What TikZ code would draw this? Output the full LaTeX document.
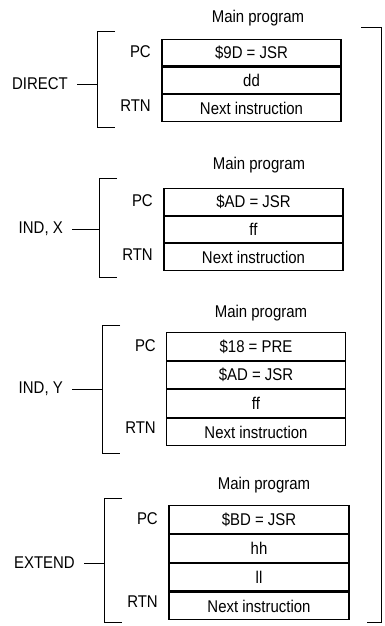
\documentclass[tikz,border=0pt]{standalone}
\usepackage{fontspec}
\setmainfont[FakeStretch=0.88]{Liberation Sans}
\begin{document}
\begin{tikzpicture}[x=1pt,y=-1pt,
  every node/.style={font=\fontsize{17}{20}\selectfont, inner sep=0pt},
  cell/.style={draw, line width=1.1pt, minimum width=179pt, anchor=north},
  lab/.style={anchor=east},
  brk/.style={line width=1pt},
  title/.style={anchor=center}]
\useasboundingbox (0,0) rectangle (385,626);

% ---------- Group 1: DIRECT ----------
\node[title] (t1) at (258,18) {Main program};
\node[cell, minimum height=26.5pt] (a1) at (251.5,39) {\$9D = JSR};
\node[cell, minimum height=26.5pt] (a2) at (a1.south) {dd};
\node[cell, minimum height=26.5pt] (a3) at (a2.south) {Next instruction};
\node[lab] (apc) at (151,52) {PC};
\node[lab] (artn) at (151,105.5) {RTN};
\coordinate (ab1) at (115,32);
\coordinate (ab2) at (97,32);
\coordinate (ab3) at (97,127);
\coordinate (ab4) at (115,127);
\coordinate (am) at (97,84);
\draw[brk] (ab1) -- (ab2) -- (ab3) -- (ab4);
\node[lab] (al) at (68,84) {DIRECT};
\draw[brk] ([xshift=9pt]al.east) -- (am);

% ---------- Group 2: IND, X ----------
\node[title] (t2) at (259,165) {Main program};
\node[cell, minimum height=26.5pt] (b1) at (253.5,188) {\$AD = JSR};
\node[cell, minimum height=26.5pt] (b2) at (b1.south) {ff};
\node[cell, minimum height=26.5pt] (b3) at (b2.south) {Next instruction};
\node[lab] (bpc) at (153,201) {PC};
\node[lab] (brtn) at (153,254.5) {RTN};
\coordinate (bb1) at (117,178);
\coordinate (bb2) at (99,178);
\coordinate (bb3) at (99,277);
\coordinate (bb4) at (117,277);
\coordinate (bm) at (99,229);
\draw[brk] (bb1) -- (bb2) -- (bb3) -- (bb4);
\node[lab] (bl) at (63,229) {IND, X};
\draw[brk] ([xshift=9pt]bl.east) -- (bm);

% ---------- Group 3: IND, Y ----------
\node[title] (t3) at (261,313) {Main program};
\node[cell, minimum height=27.5pt] (c1) at (256,332) {\$18 = PRE};
\node[cell, minimum height=27.5pt] (c2) at (c1.south) {\$AD = JSR};
\node[cell, minimum height=27.5pt] (c3) at (c2.south) {ff};
\node[cell, minimum height=27.5pt] (c4) at (c3.south) {Next instruction};
\node[lab] (cpc) at (156,346) {PC};
\node[lab] (crtn) at (156,428) {RTN};
\coordinate (cb1) at (120,325);
\coordinate (cb2) at (102,325);
\coordinate (cb3) at (102,453);
\coordinate (cb4) at (120,453);
\coordinate (cm) at (102,389);
\draw[brk] (cb1) -- (cb2) -- (cb3) -- (cb4);
\node[lab] (cl) at (63,389) {IND, Y};
\draw[brk] ([xshift=9pt]cl.east) -- (cm);

% ---------- Group 4: EXTEND ----------
\node[title] (t4) at (264,485) {Main program};
\node[cell, minimum height=27.75pt, minimum width=180pt] (d1) at (259,505) {\$BD = JSR};
\node[cell, minimum height=27.75pt, minimum width=180pt] (d2) at (d1.south) {hh};
\node[cell, minimum height=27.75pt, minimum width=180pt] (d3) at (d2.south) {ll};
\node[cell, minimum height=27.75pt, minimum width=180pt] (d4) at (d3.south) {Next instruction};
\node[lab] (dpc) at (158,519) {PC};
\node[lab] (drtn) at (158,602) {RTN};
\coordinate (db1) at (122,498);
\coordinate (db2) at (104,498);
\coordinate (db3) at (104,622);
\coordinate (db4) at (122,622);
\coordinate (dm) at (104,563);
\draw[brk] (db1) -- (db2) -- (db3) -- (db4);
\node[lab] (dl) at (75,563) {EXTEND};
\draw[brk] ([xshift=9pt]dl.east) -- (dm);

% ---------- Right bracket ----------
\coordinate (r1) at (361,28);
\coordinate (r2) at (381,28);
\coordinate (r3) at (381,622);
\coordinate (r4) at (367,622);
\draw[brk] (r1) -- (r2) -- (r3) -- (r4);
\end{tikzpicture}
\end{document}
